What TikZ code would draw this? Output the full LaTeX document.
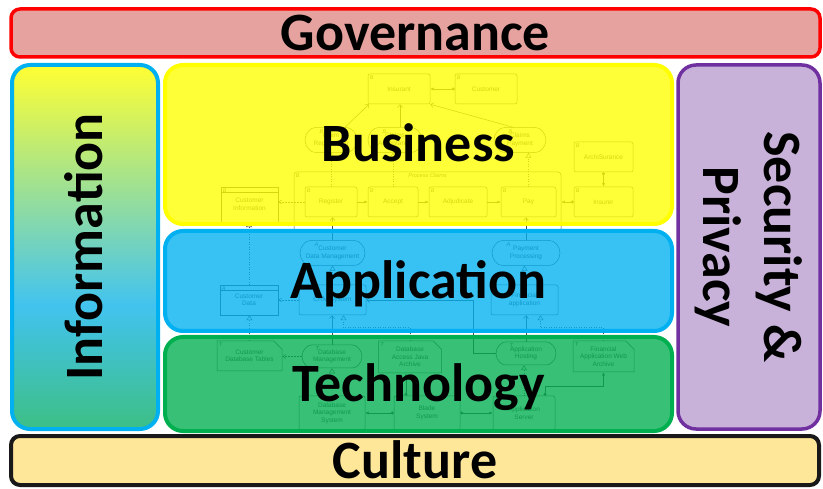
\documentclass[tikz,border=0pt]{standalone}
\usepackage{fontspec}
\setmainfont{Carlito}
\newfontfamily\archfont{Liberation Sans}
\usetikzlibrary{shapes.misc,arrows.meta}
\definecolor{govred}{HTML}{FF0000}
\definecolor{govfill}{HTML}{E6A29F}
\definecolor{bizyel}{HTML}{FFFF00}
\definecolor{appblue}{HTML}{00B0F0}
\definecolor{techgreen}{HTML}{00B050}
\definecolor{secpurple}{HTML}{7030A0}
\definecolor{secfill}{HTML}{C9B2DA}
\definecolor{cultfill}{HTML}{FFE79A}
\definecolor{infoyel}{HTML}{FFFF33}
\definecolor{infoblue}{HTML}{42C3EF}
\definecolor{infogreen}{HTML}{3DBF85}
\definecolor{elline}{HTML}{4A4A4A}
\pgfdeclareverticalshading{infoshade}{100bp}{color(0bp)=(infogreen); color(25bp)=(infogreen); color(42bp)=(infoblue); color(75bp)=(infoyel); color(100bp)=(infoyel)}
\tikzset{
  layer/.style={draw, line width=4pt, rounded corners=18pt, inner sep=0pt,
    font=\fontsize{54}{62}\selectfont\bfseries, text height=35pt, text depth=0pt},
  band/.style={layer, fill opacity=0.78, text opacity=1},
  layertext/.style={font=\fontsize{54}{61}\selectfont\bfseries, inner sep=0pt},
  el/.style={draw=elline, line width=0.5pt, fill=white, align=center, inner sep=1pt,
    font=\archfont\fontsize{6.5}{7.5}\selectfont, text=elline,
    minimum width=60pt, minimum height=30pt, rounded corners=2pt},
  letter/.style={anchor=north west, inner sep=2pt, text=elline,
    font=\archfont\itshape\fontsize{5.5}{6}\selectfont},
  bizel/.style={el, label={[letter]north west:B}},
  appel/.style={el, label={[letter]north west:A}},
  techel/.style={el, label={[letter]north west:T}},
  pill/.style={rounded rectangle, minimum height=25pt},
  dataobj/.style={rounded corners=0pt, path picture={\draw[elline, line width=0.5pt]
    ([yshift=-5pt]path picture bounding box.north west) -- ([yshift=-5pt]path picture bounding box.north east);}},
  artifact/.style={chamfered rectangle, chamfered rectangle corners=north east,
    chamfered rectangle xsep=5pt, rounded corners=0pt},
  conn/.style={draw=elline, line width=0.5pt},
  serve/.style={conn, -{Straight Barb[length=3pt,width=5pt]}},
  realize/.style={conn, dotted, -{Triangle[open,length=5pt,width=6pt]}},
  trig/.style={conn, -{Latex[length=3.5pt,width=3pt]}},
  access/.style={conn, densely dotted, -{Straight Barb[length=3pt,width=4pt]}},
  assign/.style={conn, {Circle[length=3pt]}-{Latex[length=3.5pt,width=3pt]}},
}
\begin{document}
\begin{tikzpicture}[x=1pt,y=-1pt]
\useasboundingbox (0,0) rectangle (823,489);
% model behind the layers: business
\node[bizel, minimum width=62pt] (insurant) at (399,89) {Insurant};
\node[bizel, minimum width=62pt] (customer) at (486,89) {Customer};
\node[bizel, pill, minimum width=54pt] (svcreg) at (331,140) {Claim\\Registration};
\node[bizel, pill, minimum width=56pt] (svcacc) at (395,140) {Claims\\Acceptance};
\node[bizel, pill, minimum width=54pt] (svcpay) at (520,140) {Claims\\Payment};
\node[el, minimum width=267pt, minimum height=60pt, rounded corners=3pt,
  label={[letter]north west:B}, label={[letter, anchor=north]north:Process Claims}] (claims) at (427.5,202) {};
\node[bizel, minimum width=52pt] (register) at (331,202) {Register};
\node[bizel, minimum width=50pt] (accept) at (393,202) {Accept};
\node[bizel, minimum width=58pt] (adjudicate) at (458,202) {Adjudicate};
\node[bizel, minimum width=55pt] (pay) at (528.5,202) {Pay};
\node[bizel, minimum width=59pt] (archisurance) at (603.5,157) {ArchiSurance};
\node[bizel, minimum width=59pt] (insurer) at (603.5,202) {Insurer};
\node[bizel, dataobj, minimum width=57pt, minimum height=35pt] (custinfo) at (249.5,204.5) {Customer\\Information};
\draw[assign] (customer) -- (insurant);
\draw[serve] ([xshift=14pt]svcreg.north) -- ([xshift=-30pt]insurant.south);
\draw[serve] ([xshift=5pt]svcacc.north) -- ([xshift=5pt]svcacc.north |- insurant.south);
\draw[serve] ([xshift=-7pt]svcpay.north) -- (insurant.south east);
\draw[realize] (register) -- (svcreg);
\draw[realize] (accept.north) -- (accept.north |- svcacc.south);
\draw[realize] (pay.north) -- (pay.north |- svcpay.south);
\draw[trig] (register) -- (accept);
\draw[trig] (accept) -- (adjudicate);
\draw[trig] (adjudicate) -- (pay);
\draw[access] (register.west) -- (register.west -| custinfo.east);
\draw[assign] (archisurance) -- (insurer);
\draw[assign] (insurer.west) -- (insurer.west -| claims.east);
% application
\node[appel, pill, minimum width=67pt] (cdm) at (332.5,253) {Customer\\Data Management};
\node[appel, pill, minimum width=70pt] (payproc) at (526,253) {Payment\\Processing};
\node[appel, dataobj, minimum width=58pt] (custdata) at (249,300) {Customer\\Data};
\node[appel, minimum width=67pt] (crm) at (332.5,300) {CRM System};
\node[appel, minimum width=67pt] (finapp) at (524.5,300) {Financial\\application};
\draw[realize] (custdata.north) -- (custdata.north |- custinfo.south);
\draw[serve] (cdm.north) -- (cdm.north |- register.south);
\draw[serve] (payproc.north) -- (payproc.north |- pay.south);
\draw[realize] (crm) -- (cdm);
\draw[realize] (finapp.north) -- (finapp.north |- payproc.south);
\draw[access] (crm) -- (custdata);
% technology
\node[techel, artifact, minimum width=65pt] (dbtables) at (249.5,356) {Customer\\Database Tables};
\node[techel, pill, minimum width=62pt, minimum height=23pt] (dbmgmt) at (332,356.5) {Database\\Management};
\node[techel, artifact, minimum width=63pt, minimum height=32pt] (javaarch) at (410,357) {Database\\Access Java\\Archive};
\node[techel, pill, minimum width=62pt, minimum height=23pt] (apphost) at (526,353.5) {Application\\Hosting};
\node[techel, artifact, minimum width=61pt, minimum height=31pt] (webarch) at (603.5,356.5) {Financial\\Application Web\\Archive};
\node[techel, minimum width=66pt, minimum height=34pt] (dbms) at (332,413) {Database\\Management\\System};
\node[techel, minimum width=66pt, minimum height=34pt] (blade) at (427,413) {Blade\\System};
\node[techel, minimum width=62pt, minimum height=34pt] (appserver) at (524,413) {Application\\Server};
\draw[serve] (apphost.west) -- ++(-23,0) |- (crm.east);
\draw[realize] (dbtables.north) -- (dbtables.north |- custdata.south);
\draw[serve] (dbmgmt.north) -- (dbmgmt.north |- crm.south);
\draw[realize] (javaarch.north) -- ++(0,-13) -| ([xshift=11pt]crm.south);
\draw[serve] (apphost.north) -- (apphost.north |- finapp.south);
\draw[realize] (webarch.north) -- ++(0,-13) -| ([xshift=16pt]finapp.south);
\draw[realize] (dbms) -- (dbmgmt);
\draw[realize] (appserver.north) -- (appserver.north |- apphost.south);
\draw[access] (dbmgmt.west) -- (dbmgmt.west -| dbtables.east);
\draw[assign] (blade) -- (dbms);
\draw[assign] (blade) -- (appserver);
\draw[assign] ([xshift=-21pt]blade.north) -- ([xshift=-21pt]blade.north |- javaarch.south);
\draw[assign] ([xshift=21pt]appserver.north) -- ++(0,-9) -| (webarch.south);
% the layers
\node[layer, draw=govred, fill=govfill, line width=3.5pt, rounded corners=9pt,
  minimum width=809pt, minimum height=48pt] (gov) at (415.5,33) {Governance};
\node[layer, draw=appblue, shade, shading=infoshade, minimum width=146pt, minimum height=364pt] (info) at (85,247) {};
\node[layertext, rotate=90, text height=35pt, text depth=0pt] (infotext) at (info) {Information};
\node[band, draw=bizyel, fill=bizyel, minimum width=507pt, minimum height=159pt] (biz) at (418.5,144.5) {Business};
\node[band, draw=appblue, fill=appblue, minimum width=507pt, minimum height=100pt] (app) at (418.5,281) {Application};
\node[band, draw=techgreen, fill=techgreen, minimum width=507pt, minimum height=94pt] (tech) at (418.5,384) {Technology};
\node[layer, draw=secpurple, fill=secfill, line width=3.5pt, minimum width=142pt, minimum height=364pt] (sec) at (749,247) {};
\node[layertext, rotate=-90, align=center] (sectext) at (sec) {Security \&\\Privacy};
\node[layer, draw=black!90, fill=cultfill, rounded corners=9pt,
  minimum width=808pt, minimum height=49pt] (cult) at (415,460.5) {Culture};
\end{tikzpicture}
\end{document}
